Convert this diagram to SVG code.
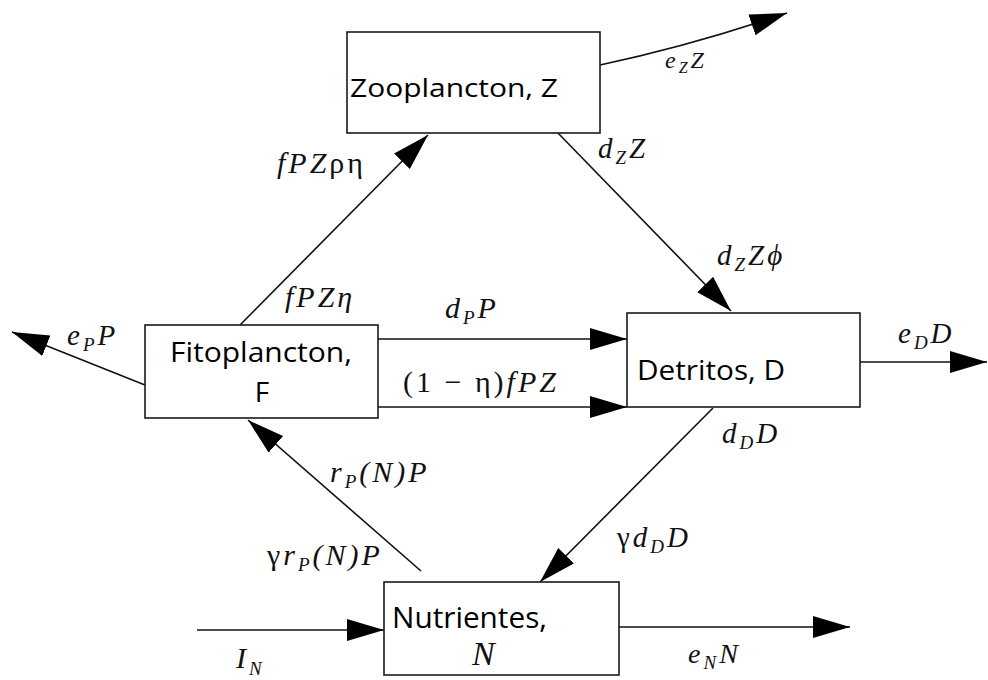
<svg xmlns="http://www.w3.org/2000/svg" width="988" height="680" viewBox="0 0 988 680">
  <style>
    .box { fill: #ffffff; stroke: #1a1a1a; stroke-width: 1.6; }
    .name { font-family: "Open Sans", "Noto Sans", sans-serif; fill: #000; }
    .link { fill: none; stroke: #111; stroke-width: 1.6; marker-end: url(#head); }
    .math { font-family: "Liberation Serif", "Times New Roman", serif; font-style: italic; fill: #111; letter-spacing: 3px; }
    .up { font-style: normal; }
    .sub { font-size: 19px; }
  </style>
  <defs>
    <marker id="head" markerUnits="userSpaceOnUse" markerWidth="38" markerHeight="24" refX="37" refY="11" orient="auto">
      <path d="M0,0 L37,11 L0,22 Z" fill="#000"/>
    </marker>
  </defs>

  <!-- flows between compartments -->
  <g id="connectors">
    <path class="link" d="M600,65 Q690,46 787,13"/>
    <path class="link" d="M240,325 L428,135"/>
    <path class="link" d="M557,132 L731,311"/>
    <path class="link" d="M378,339 L627,339"/>
    <path class="link" d="M378,407 L627,407"/>
    <path class="link" d="M145,385 L12,332"/>
    <path class="link" d="M860,362 L987,362"/>
    <path class="link" d="M713,408 L540,582"/>
    <path class="link" d="M421,571 L248,420"/>
    <path class="link" d="M197,630 L384,630"/>
    <path class="link" d="M619,627 L850,627"/>
  </g>

  <!-- compartments -->
  <g id="zooplancton">
    <rect class="box" x="347" y="32" width="253" height="101"/>
    <text class="name" x="350" y="97" font-size="26" textLength="208" lengthAdjust="spacingAndGlyphs">Zooplancton, Z</text>
  </g>
  <g id="fitoplancton">
    <rect class="box" x="145" y="325" width="233" height="93"/>
    <text class="name" x="261" y="362" font-size="28" text-anchor="middle" textLength="182" lengthAdjust="spacingAndGlyphs">Fitoplancton,</text>
    <text class="name" x="262" y="402" font-size="28" text-anchor="middle">F</text>
  </g>
  <g id="detritos">
    <rect class="box" x="627" y="313" width="233" height="94"/>
    <text class="name" x="637" y="380" font-size="28" textLength="148" lengthAdjust="spacingAndGlyphs">Detritos, D</text>
  </g>
  <g id="nutrientes">
    <rect class="box" x="384" y="582" width="235" height="93"/>
    <text class="name" x="392" y="628" font-size="30" textLength="155" lengthAdjust="spacingAndGlyphs">Nutrientes,</text>
    <text class="math" x="472" y="665" font-size="34">N</text>
  </g>

  <!-- flow labels -->
  <g id="labels">
    <text class="math" x="665" y="68" font-size="24" letter-spacing="1">e<tspan style="font-size:16px" dy="5">Z</tspan><tspan dy="-5">Z</tspan></text>
    <text class="math" x="277" y="173" font-size="30">fPZ<tspan class="up">ρη</tspan></text>
    <text class="math" x="285" y="307" font-size="30">fPZη</text>
    <text class="math" x="445" y="318" font-size="30">d<tspan class="sub" dy="6">P</tspan><tspan dy="-6">P</tspan></text>
    <text class="math" x="403" y="392" font-size="30" letter-spacing="2"><tspan class="up">(1 − η)</tspan>fPZ</text>
    <text class="math" x="598" y="158" font-size="29">d<tspan class="sub" dy="6">Z</tspan><tspan dy="-6">Z</tspan></text>
    <text class="math" x="717" y="265" font-size="29">d<tspan class="sub" dy="6">Z</tspan><tspan dy="-6">Zϕ</tspan></text>
    <text class="math" x="67" y="345" font-size="29">e<tspan class="sub" dy="6">P</tspan><tspan dy="-6">P</tspan></text>
    <text class="math" x="898" y="343" font-size="29">e<tspan class="sub" dy="6">D</tspan><tspan dy="-6">D</tspan></text>
    <text class="math" x="722" y="443" font-size="29">d<tspan class="sub" dy="6">D</tspan><tspan dy="-6">D</tspan></text>
    <text class="math" x="330" y="482" font-size="30">r<tspan class="sub" dy="6">P</tspan><tspan dy="-6">(N)P</tspan></text>
    <text class="math" x="267" y="565" font-size="30"><tspan class="up">γ</tspan>r<tspan class="sub" dy="6">P</tspan><tspan dy="-6">(N)P</tspan></text>
    <text class="math" x="617" y="547" font-size="29"><tspan class="up">γ</tspan>d<tspan class="sub" dy="6">D</tspan><tspan dy="-6">D</tspan></text>
    <text class="math" x="236" y="668" font-size="30">I<tspan class="sub" dy="7">N</tspan></text>
    <text class="math" x="688" y="663" font-size="28">e<tspan class="sub" dy="6">N</tspan><tspan dy="-6">N</tspan></text>
  </g>
</svg>
